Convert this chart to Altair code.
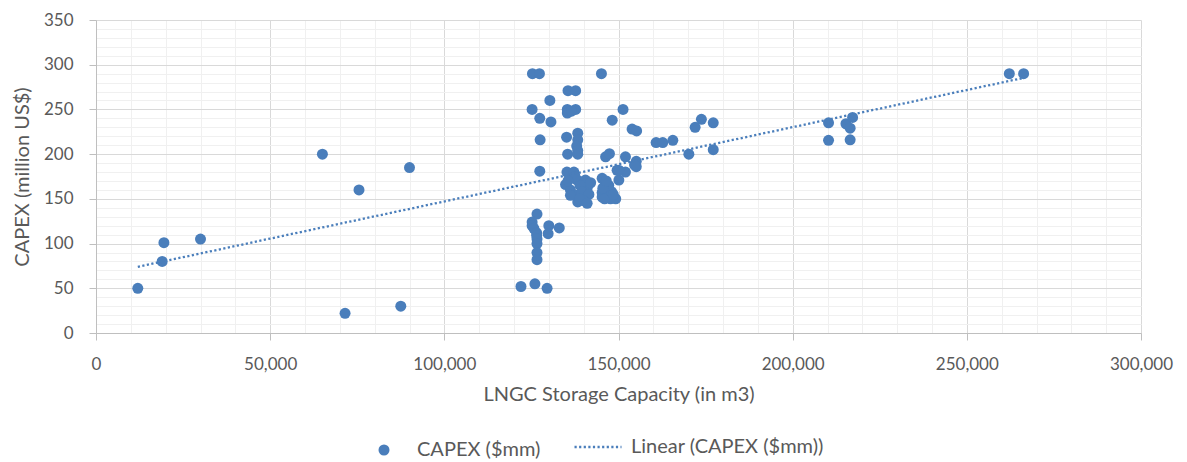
import altair as alt
import pandas as pd

# ---- data ----
CAPACITY = [
    12000, 19000, 19500, 30000, 65000, 75500, 90000, 71500, 87500,
    122000, 126000, 129500,
    126600, 125200, 125200, 125700, 126500, 126500, 126600, 126600, 126600, 126600,
    130000, 133000, 129800,
    125300, 127300, 145100,
    135500, 137700, 130300,
    125200, 135300, 137700, 135300, 136500, 151300,
    127400, 130600, 148200, 153900, 155200,
    127500, 135100, 138300, 138300, 138000, 138300,
    135400, 138300, 160800, 162700, 165600,
    127400, 146300, 147400, 152000, 155100, 155100,
    170200, 172000, 173800, 177200, 177200,
    210300, 210300, 215300, 217200, 216500, 216500,
    262200, 266300,
    135200, 137200, 134800, 136200, 138100, 140500, 141000, 137700, 138300, 140500,
    136200, 139000, 139500, 141500, 137500, 142000, 135500, 140000, 138800, 141000,
    145300, 145300, 146800, 146300, 149200, 147700, 145300, 146000, 148000, 150100,
    149600, 152000, 154600, 147200, 145500, 150100, 148500, 146500,
]
CAPEX = [
    50, 80, 101, 105, 200, 160, 185, 22, 30,
    52, 55, 50,
    133, 124, 120, 117, 112, 109, 105, 100, 90, 82,
    120, 117.5, 111,
    290, 290, 290,
    271, 271, 260,
    250, 250, 250, 246, 248, 250,
    240, 236, 238, 228, 226,
    216, 219, 223.5, 216, 209, 204,
    200, 200, 213, 213, 215.5,
    181, 197, 200.5, 197, 192, 186,
    200, 230, 239, 235, 205,
    235, 215.5, 234, 241, 229, 216,
    290, 290,
    180, 180, 166, 160, 171, 171, 162, 154, 146.6, 152,
    154, 165, 158, 155, 175, 168, 170, 148, 150, 145,
    173, 152, 162, 167, 150, 150, 157, 150, 158, 171,
    182, 180, 188, 165, 162, 182, 155, 170,
]
# Linear trendline end points
TREND_CAPACITY = [12000, 266000]
TREND_CAPEX = [74, 285]

SERIES_POINTS = "CAPEX ($mm)"
SERIES_TREND = "Linear (CAPEX ($mm))"
X_TICKS = list(range(0, 300001, 10000))
Y_TICKS = list(range(0, 351, 10))

df = pd.DataFrame({"capacity": CAPACITY, "capex": CAPEX})
df["series"] = SERIES_POINTS
trend_df = pd.DataFrame({"capacity": TREND_CAPACITY, "capex": TREND_CAPEX})
trend_df["series"] = SERIES_TREND

BLUE = "#4a7ebb"
TEXT = "#595959"
FONT = "Lato"
DASH = [2.2, 2.4]


def cond(test, yes, no):
    return {"condition": {"test": test, "value": yes}, "value": no}


def make_axes():
    x_axis = alt.Axis(
        values=X_TICKS,
        title="LNGC Storage Capacity (in m3)",
        labelExpr="datum.value % 50000 === 0 ? format(datum.value, ',') : ''",
        gridColor=cond("datum.value % 50000 === 0", "#d9d9d9", "#f0f0f0"),
        tickColor=cond("datum.value % 50000 === 0", "#bfbfbf", "transparent"),
        gridWidth=1,
        tickSize=7,
        labelPadding=16,
        titlePadding=12,
        domainColor="#bfbfbf",
        labelFlush=False,
        labelOverlap=False,
    )
    y_axis = alt.Axis(
        values=Y_TICKS,
        title="CAPEX (million US$)",
        labelExpr="datum.value % 50 === 0 ? datum.label : ''",
        gridColor=cond("datum.value % 50 === 0", "#d9d9d9", "#f0f0f0"),
        tickColor=cond("datum.value % 50 === 0", "#bfbfbf", "transparent"),
        gridWidth=1,
        tickSize=7,
        labelPadding=16,
        titlePadding=11,
        domainColor="#bfbfbf",
        labelFlush=False,
        labelOverlap=False,
    )
    x_enc = alt.X("capacity:Q", scale=alt.Scale(domain=[0, 300000], nice=False), axis=x_axis)
    y_enc = alt.Y("capex:Q", scale=alt.Scale(domain=[0, 350], nice=False), axis=y_axis)
    return x_enc, y_enc


px, py = make_axes()
points = alt.Chart(df).mark_point(filled=True, size=121, opacity=1, color=BLUE, shape="circle").encode(
    x=px,
    y=py,
    shape=alt.Shape(
        "series:N",
        scale=alt.Scale(domain=[SERIES_POINTS], range=["circle"]),
        legend=alt.Legend(
            title=None,
            orient="none",
            legendX=278,
            legendY=420,
            symbolSize=121,
            symbolFillColor=BLUE,
            symbolStrokeColor=BLUE,
            symbolStrokeWidth=0,
            labelOffset=23,
            labelLimit=400,
            labelFont=FONT,
            labelFontSize=20,
            labelColor=TEXT,
        ),
    ),
)

tx, ty = make_axes()
trend = (
    alt.Chart(trend_df)
    .mark_line(color=BLUE, strokeWidth=2.3)
    .encode(
        x=tx,
        y=ty,
        strokeDash=alt.StrokeDash(
            "series:N",
            scale=alt.Scale(domain=[SERIES_TREND], range=[DASH]),
            legend=alt.Legend(
                title=None,
                orient="none",
                legendX=477,
                legendY=402,
                symbolType="stroke",
                symbolSize=2209,
                symbolStrokeColor=BLUE,
                symbolStrokeWidth=2.3,
                symbolDash=DASH,
                labelOffset=8,
                labelLimit=400,
                labelFont=FONT,
                labelFontSize=20,
                labelColor=TEXT,
            ),
        ),
    )
)

chart = (
    alt.layer(points, trend)
    .resolve_legend(shape="independent", strokeDash="independent")
    .properties(
        width=1045,
        height=313,
        autosize=alt.AutoSizeParams(type="none"),
        padding={"left": 96, "top": 20, "right": 46, "bottom": 129},
        background="white",
    )
    .configure_view(stroke=None)
    .configure_axis(
        labelFont=FONT,
        labelFontSize=17,
        labelColor=TEXT,
        titleFont=FONT,
        titleFontSize=20,
        titleFontWeight="normal",
        titleColor=TEXT,
    )
)

chart.save("out.html", embed_options={"renderer": "svg", "actions": False})
